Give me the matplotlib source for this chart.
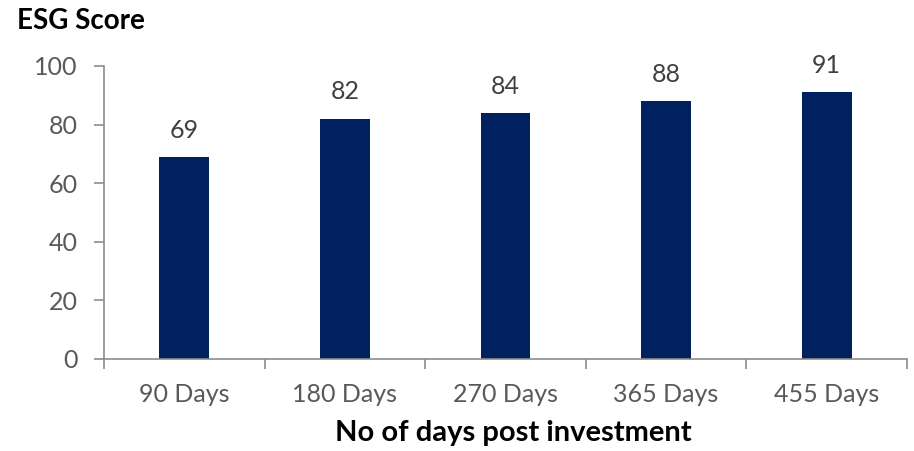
import matplotlib
matplotlib.use("Agg")
import matplotlib.pyplot as plt
import numpy as np

categories = ["90 Days", "180 Days", "270 Days", "365 Days", "455 Days"]
scores = [69, 82, 84, 88, 91]

plt.rcParams['font.family'] = ['Lato', 'DejaVu Sans']

fig = plt.figure(figsize=(9.14, 4.51), dpi=100)
ax = fig.add_axes([0.1138, 0.204, 0.8785, 0.6497])

x = np.arange(len(categories))
ax.bar(x, scores, width=0.31, color="#002060", zorder=2)

for xi, v in zip(x, scores):
    ax.annotate(str(v), (xi, v), xytext=(0, 11), textcoords="offset points",
                ha="center", va="bottom", fontsize=18, color="#404040")

ax.set_xlim(-0.5, len(categories) - 0.5)
ax.set_ylim(0, 100)
ax.set_yticks([0, 20, 40, 60, 80, 100])
ax.set_xticks(x)
ax.set_xticklabels(categories)
ax.set_xticks(np.arange(-0.5, len(categories)), minor=True)

for s in ["top", "right"]:
    ax.spines[s].set_visible(False)
for s in ["left", "bottom"]:
    ax.spines[s].set_color("#8c8c8c")
    ax.spines[s].set_linewidth(1.2)

ax.tick_params(axis="y", direction="out", length=7, width=1.2, color="#8c8c8c",
               labelsize=18, labelcolor="#595959", pad=12)
ax.tick_params(axis="x", which="major", length=0, labelsize=18,
               labelcolor="#595959", pad=17)
ax.tick_params(axis="x", which="minor", direction="out", length=7, width=1.2,
               color="#8c8c8c")

fig.text(0.019, 0.935, "ESG Score", fontsize=20, fontweight="bold", color="black",
         ha="left", va="baseline")
fig.text(0.562, 0.022, "No of days post investment", fontsize=21, fontweight="bold",
         color="black", ha="center", va="baseline")

fig.savefig("out.png", dpi=100)
